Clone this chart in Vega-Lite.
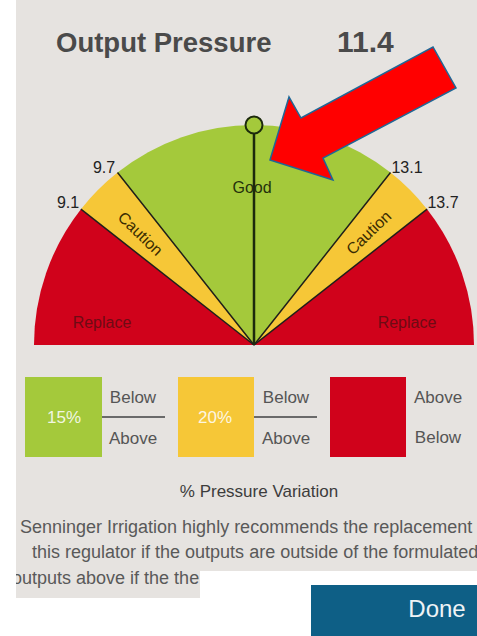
{
  "$schema": "https://vega.github.io/schema/vega-lite/v6.json",
  "width": 477,
  "height": 636,
  "autosize": {"type": "none"},
  "padding": 0,
  "background": "#ffffff",
  "config": {
    "view": {"stroke": null},
    "axis": {"disable": true},
    "legend": {"disable": true},
    "text": {"font": "Liberation Sans"}
  },
  "layer": [
    {
      "data": {"values": [
        {"x": 16, "x2": 477, "y": 0, "y2": 571},
        {"x": 16, "x2": 200, "y": 571, "y2": 598}
      ]},
      "mark": {"type": "rect", "color": "#e6e3e0"},
      "encoding": {
        "x": {"field": "x", "type": "quantitative", "scale": {"domain": [0, 477], "nice": false, "zero": false}, "axis": null},
        "y": {"field": "y", "type": "quantitative", "scale": {"domain": [0, 636], "nice": false, "zero": false, "reverse": true}, "axis": null},
        "x2": {"field": "x2"}, "y2": {"field": "y2"}
      }
    },
    {
      "data": {"values": [
        {"zone": "Replace", "from": 7.41, "to": 9.1},
        {"zone": "Caution", "from": 9.1, "to": 9.7},
        {"zone": "Good", "from": 9.7, "to": 13.1},
        {"zone": "Caution", "from": 13.1, "to": 13.7},
        {"zone": "Replace", "from": 13.7, "to": 15.39}
      ]},
      "mark": {"type": "arc", "radius": 220},
      "encoding": {
        "x": {"datum": 254, "type": "quantitative"},
        "y": {"datum": 345, "type": "quantitative"},
        "theta": {"field": "from", "type": "quantitative", "stack": null, "scale": {"domain": [7.41, 15.39], "range": [-1.5708, 1.5708]}},
        "theta2": {"field": "to"},
        "color": {"field": "zone", "type": "nominal", "scale": {"domain": ["Good", "Caution", "Replace"], "range": ["#a4c93b", "#f6c737", "#d0021b"]}, "legend": null}
      }
    },
    {
      "data": {"values": [{"v": 9.1}, {"v": 9.7}, {"v": 13.1}, {"v": 13.7}]},
      "mark": {"type": "arc", "radius": 220, "filled": false, "stroke": "#1f1f1a", "strokeWidth": 1.5},
      "encoding": {
        "x": {"datum": 254, "type": "quantitative"},
        "y": {"datum": 345, "type": "quantitative"},
        "theta": {"field": "v", "type": "quantitative", "stack": null},
        "theta2": {"field": "v"}
      }
    },
    {
      "data": {"values": [{"v": 11.4}]},
      "mark": {"type": "arc", "radius": 211, "filled": false, "stroke": "#1c2a0c", "strokeWidth": 2.5},
      "encoding": {
        "x": {"datum": 254, "type": "quantitative"},
        "y": {"datum": 345, "type": "quantitative"},
        "theta": {"field": "v", "type": "quantitative", "stack": null},
        "theta2": {"field": "v"}
      }
    },
    {
      "data": {"values": [{"x": 254, "y": 125}]},
      "mark": {"type": "point", "shape": "circle", "filled": true, "fill": "#a4c93b", "stroke": "#1c2a0c", "strokeWidth": 2, "size": 290, "opacity": 1},
      "encoding": {
        "x": {"field": "x", "type": "quantitative"},
        "y": {"field": "y", "type": "quantitative"}
      }
    },
    {
      "data": {"values": [
        {"label": "9.7", "x": 104, "y": 168},
        {"label": "9.1", "x": 68, "y": 203},
        {"label": "13.1", "x": 407, "y": 168},
        {"label": "13.7", "x": 443, "y": 203}
      ]},
      "mark": {"type": "text", "fontSize": 16, "color": "#222222", "align": "center", "baseline": "middle"},
      "encoding": {
        "x": {"field": "x", "type": "quantitative"},
        "y": {"field": "y", "type": "quantitative"},
        "text": {"field": "label"}
      }
    },
    {
      "data": {"values": [{"label": "Good", "x": 252, "y": 188}]},
      "mark": {"type": "text", "fontSize": 16, "color": "#24310c", "align": "center", "baseline": "middle"},
      "encoding": {
        "x": {"field": "x", "type": "quantitative"},
        "y": {"field": "y", "type": "quantitative"},
        "text": {"field": "label"}
      }
    },
    {
      "data": {"values": [
        {"label": "Caution", "x": 140, "y": 234, "angle": 44},
        {"label": "Caution", "x": 369, "y": 233, "angle": -44}
      ]},
      "mark": {"type": "text", "fontSize": 16, "color": "#3a2c02", "align": "center", "baseline": "middle"},
      "encoding": {
        "x": {"field": "x", "type": "quantitative"},
        "y": {"field": "y", "type": "quantitative"},
        "text": {"field": "label"},
        "angle": {"field": "angle", "type": "quantitative", "scale": null}
      }
    },
    {
      "data": {"values": [
        {"label": "Replace", "x": 102, "y": 323},
        {"label": "Replace", "x": 407, "y": 323}
      ]},
      "mark": {"type": "text", "fontSize": 16, "color": "#6e0b14", "align": "center", "baseline": "middle"},
      "encoding": {
        "x": {"field": "x", "type": "quantitative"},
        "y": {"field": "y", "type": "quantitative"},
        "text": {"field": "label"}
      }
    },
    {
      "data": {"values": [{"label": "Output Pressure", "x": 56, "y": 52}]},
      "mark": {"type": "text", "fontSize": 27.5, "fontWeight": "bold", "color": "#4a4a4a", "align": "left", "baseline": "alphabetic"},
      "encoding": {
        "x": {"field": "x", "type": "quantitative"},
        "y": {"field": "y", "type": "quantitative"},
        "text": {"field": "label"}
      }
    },
    {
      "data": {"values": [{"label": "11.4", "x": 337, "y": 52}]},
      "mark": {"type": "text", "fontSize": 30, "fontWeight": "bold", "color": "#4a4a4a", "align": "left", "baseline": "alphabetic"},
      "encoding": {
        "x": {"field": "x", "type": "quantitative"},
        "y": {"field": "y", "type": "quantitative"},
        "text": {"field": "label"}
      }
    },
    {
      "data": {"values": [
        {"zone": "Good", "x": 25, "x2": 102, "y": 377, "y2": 457},
        {"zone": "Caution", "x": 178, "x2": 254, "y": 377, "y2": 457},
        {"zone": "Replace", "x": 330, "x2": 406, "y": 377, "y2": 457}
      ]},
      "mark": {"type": "rect"},
      "encoding": {
        "x": {"field": "x", "type": "quantitative"},
        "y": {"field": "y", "type": "quantitative"},
        "x2": {"field": "x2"},
        "y2": {"field": "y2"},
        "color": {"field": "zone", "type": "nominal", "legend": null}
      }
    },
    {
      "data": {"values": [
        {"x": 102, "x2": 165, "y": 417},
        {"x": 254, "x2": 317, "y": 417}
      ]},
      "mark": {"type": "rule", "color": "#6a6a6a", "strokeWidth": 2},
      "encoding": {
        "x": {"field": "x", "type": "quantitative"},
        "y": {"field": "y", "type": "quantitative"},
        "x2": {"field": "x2"}
      }
    },
    {
      "data": {"values": [
        {"label": "15%", "x": 64, "y": 418},
        {"label": "20%", "x": 215, "y": 418}
      ]},
      "mark": {"type": "text", "fontSize": 17, "color": "#ffffff", "opacity": 0.85, "align": "center", "baseline": "middle"},
      "encoding": {
        "x": {"field": "x", "type": "quantitative"},
        "y": {"field": "y", "type": "quantitative"},
        "text": {"field": "label"}
      }
    },
    {
      "data": {"values": [
        {"label": "Below", "x": 133, "y": 398},
        {"label": "Above", "x": 133, "y": 439},
        {"label": "Below", "x": 286, "y": 398},
        {"label": "Above", "x": 286, "y": 439},
        {"label": "Above", "x": 438, "y": 398},
        {"label": "Below", "x": 438, "y": 438}
      ]},
      "mark": {"type": "text", "fontSize": 17, "color": "#555555", "align": "center", "baseline": "middle"},
      "encoding": {
        "x": {"field": "x", "type": "quantitative"},
        "y": {"field": "y", "type": "quantitative"},
        "text": {"field": "label"}
      }
    },
    {
      "data": {"values": [{"label": "% Pressure Variation", "x": 259, "y": 492}]},
      "mark": {"type": "text", "fontSize": 17, "color": "#3c3c3c", "align": "center", "baseline": "middle"},
      "encoding": {
        "x": {"field": "x", "type": "quantitative"},
        "y": {"field": "y", "type": "quantitative"},
        "text": {"field": "label"}
      }
    },
    {
      "data": {"values": [
        {"label": "Senninger Irrigation highly recommends the replacement of", "x": 20, "y": 528},
        {"label": "this regulator if the outputs are outside of the formulated", "x": 32, "y": 553},
        {"label": "outputs above if the the", "x": 12, "y": 579}
      ]},
      "mark": {"type": "text", "fontSize": 18, "color": "#595959", "align": "left", "baseline": "middle"},
      "encoding": {
        "x": {"field": "x", "type": "quantitative"},
        "y": {"field": "y", "type": "quantitative"},
        "text": {"field": "label"}
      }
    },
    {
      "data": {"values": [{"x": 0, "x2": 16, "y": 500, "y2": 636}]},
      "mark": {"type": "rect", "color": "#ffffff"},
      "encoding": {
        "x": {"field": "x", "type": "quantitative"},
        "y": {"field": "y", "type": "quantitative"},
        "x2": {"field": "x2"}, "y2": {"field": "y2"}
      }
    },
    {
      "data": {"values": [{"x": 311, "x2": 477, "y": 585, "y2": 636}]},
      "mark": {"type": "rect", "color": "#0e5f86"},
      "encoding": {
        "x": {"field": "x", "type": "quantitative"},
        "y": {"field": "y", "type": "quantitative"},
        "x2": {"field": "x2"}, "y2": {"field": "y2"}
      }
    },
    {
      "data": {"values": [{"label": "Done", "x": 437, "y": 610}]},
      "mark": {"type": "text", "fontSize": 24, "color": "#eef3f6", "align": "center", "baseline": "middle"},
      "encoding": {
        "x": {"field": "x", "type": "quantitative"},
        "y": {"field": "y", "type": "quantitative"},
        "text": {"field": "label"}
      }
    },
    {
      "data": {"values": [
        {"i": 1, "x": 270, "y": 160},
        {"i": 2, "x": 289, "y": 97},
        {"i": 3, "x": 301, "y": 118},
        {"i": 4, "x": 433, "y": 47},
        {"i": 5, "x": 456, "y": 88},
        {"i": 6, "x": 323, "y": 158},
        {"i": 7, "x": 333, "y": 180}
      ]},
      "mark": {"type": "line", "interpolate": "linear-closed", "fill": "#ff0000", "stroke": "#1f6796", "strokeWidth": 1.5},
      "encoding": {
        "x": {"field": "x", "type": "quantitative"},
        "y": {"field": "y", "type": "quantitative"},
        "order": {"field": "i", "type": "quantitative"}
      }
    }
  ]
}
